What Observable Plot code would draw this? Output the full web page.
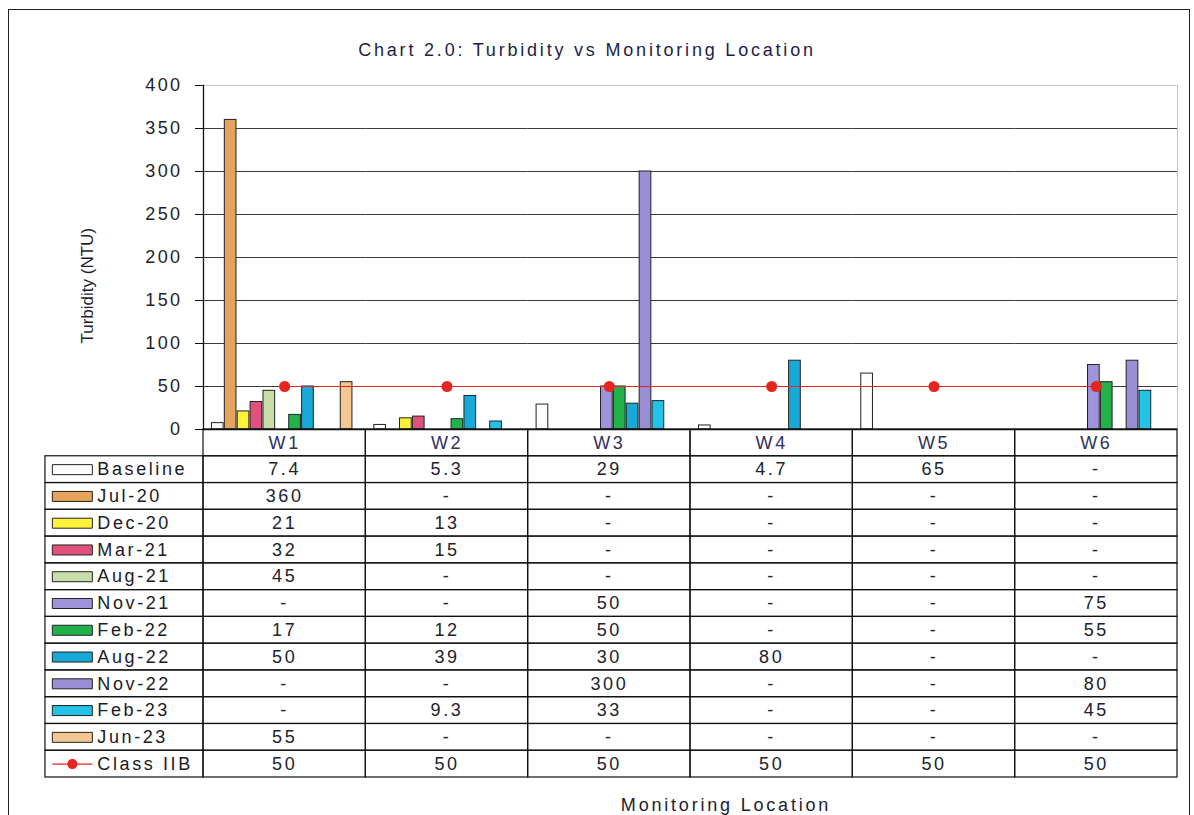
<!DOCTYPE html>
<html><head><meta charset="utf-8">
<script src="https://cdn.jsdelivr.net/npm/d3@7"></script>
<script src="https://cdn.jsdelivr.net/npm/@observablehq/plot@0.6"></script>
<style>
body{margin:0;width:1194px;height:815px;overflow:hidden;background:#fff;font-family:"Liberation Sans",Arial,sans-serif;}
#wrap{position:relative;width:1194px;height:815px;}
#wrap svg{position:absolute;left:0;overflow:visible;background:transparent;}
#frame{position:absolute;left:8px;top:9px;width:1180px;height:840px;border:1.5px solid #222;}
#title{position:absolute;top:40px;left:0;width:1174px;text-align:center;font-size:18px;letter-spacing:2.8px;color:#1e1e48;}
#xtitle{position:absolute;top:795px;left:524px;width:404px;text-align:center;font-size:18px;letter-spacing:2.8px;color:#1e1e30;}
#plotB g[aria-label="y-axis tick label"] text{letter-spacing:2.4px;font-size:18px;}
</style></head>
<body><div id="wrap"><div id="frame"></div><div id="title">Chart 2.0: Turbidity vs Monitoring Location</div><div id="xtitle">Monitoring Location</div></div>
<script>
const locations = ["W1","W2","W3","W4","W5","W6"];
const seriesNames = ["Baseline","Jul-20","Dec-20","Mar-21","Aug-21","Nov-21","Feb-22","Aug-22","Nov-22","Feb-23","Jun-23"];
const seriesColors = ["#ffffff","#e6a35c","#fff23a","#e2507c","#c9dea8","#9f93dc","#21b24c","#19a9d8","#9a8fd6","#22c3e6","#f4c792"];
const baseline = [7.4, 5.3, 29, 4.7, 65, null];
const jul20    = [360, null, null, null, null, null];
const dec20    = [21, 13, null, null, null, null];
const mar21    = [32, 15, null, null, null, null];
const aug21    = [45, null, null, null, null, null];
const nov21    = [null, null, 50, null, null, 75];
const feb22    = [17, 12, 50, null, null, 55];
const aug22    = [50, 39, 30, 80, null, null];
const nov22    = [null, null, 300, null, null, 80];
const feb23    = [null, 9.3, 33, null, null, 45];
const jun23    = [55, null, null, null, null, null];
const classIIB = [50, 50, 50, 50, 50, 50];
const classLabel = "Class IIB";
const yLabel = "Turbidity (NTU)";
const yTicks = [0, 50, 100, 150, 200, 250, 300, 350, 400];

const seriesValues = [baseline, jul20, dec20, mar21, aug21, nov21, feb22, aug22, nov22, feb23, jun23];
const bars = seriesNames.flatMap((s, i) => locations.map((loc, j) => ({series: s, loc, value: seriesValues[i][j]}))).filter(d => d.value != null);
const limit = locations.map((loc, j) => ({loc, value: classIIB[j]}));

const RED = "#e8241e";
const W = 1194, H = 440;
const common = {width: W, height: H, marginTop: 85, marginBottom: 11, marginLeft: 203, marginRight: 17,
  style: {fontFamily: '"Liberation Sans", Arial, sans-serif', background: "transparent", color: "#1e1e2e", fontSize: "17px"}};
const wrap = document.getElementById("wrap");

// bars + gridlines
const plotA = Plot.plot({
  ...common,
  fx: {domain: locations, axis: null, padding: 0, round: false},
  x: {domain: seriesNames, axis: null, paddingInner: 0, paddingOuter: 0.8, align: 0.38, round: false},
  y: {domain: [0, 400], axis: null},
  color: {domain: seriesNames, range: seriesColors},
  marks: [
    Plot.ruleY(yTicks.filter(t => t > 0 && t < 400), {stroke: "#3c3c3c", strokeWidth: 1.2}),
    Plot.barY(bars, {fx: "loc", x: "series", y: "value", fill: "series", stroke: "#222", strokeWidth: 1, insetLeft: 0.6, insetRight: 0.6})
  ]
});
plotA.style.top = "0px";
wrap.appendChild(plotA);

// axes, frame and Class IIB line
const plotB = Plot.plot({
  ...common,
  x: {type: "point", domain: locations, padding: 0.5, axis: null, round: false},
  y: {domain: [0, 400], axis: null},
  marks: [
    Plot.frame({stroke: "#c4c4c4"}),
    Plot.frame({anchor: "left", stroke: "#111", strokeWidth: 1.3}),
    Plot.ruleY([0], {stroke: "#111", strokeWidth: 1.3}),
    Plot.axisY({ticks: yTicks, tickSize: 8, tickPadding: 13, fontSize: 18, label: null, stroke: "#111"}),
    Plot.text([yLabel], {frameAnchor: "left", text: d => d, rotate: -90, dx: -116, dy: 86, fontSize: 17, fill: "#1e1e2e"}),
    Plot.line(limit, {x: "loc", y: "value", stroke: RED, strokeWidth: 1.2}),
    Plot.dot(limit, {x: "loc", y: "value", r: 5.5, fill: RED})
  ]
});
plotB.id = "plotB";
plotB.style.top = "0px";
wrap.appendChild(plotB);

// data table
const rows = ["hdr", ...seriesNames, classLabel];
const cols = ["", ...locations];
const allValues = [...seriesValues, classIIB];
const labelRows = [...seriesNames, classLabel];
const gridCells = rows.flatMap(r => locations.map(c => ({row: r, col: c})));
const valueCells = labelRows.flatMap((r, i) => locations.map((c, j) => ({row: r, col: c, label: allValues[i][j] == null ? "-" : String(allValues[i][j])})));
const colW = (W - 203 - 17) / locations.length;
const rectSymbol = {draw(ctx) { ctx.rect(-20, -5, 40, 10); }};
const lineSymbol = {draw(ctx) { ctx.moveTo(-20, 0); ctx.lineTo(20, 0); }};
const TH = 350;
const plotT = Plot.plot({
  width: W, height: TH, marginTop: 1, marginBottom: 1, marginLeft: 203 - colW, marginRight: 17,
  style: {fontFamily: '"Liberation Sans", Arial, sans-serif', background: "transparent", color: "#1e1e2e", letterSpacing: "2.6px"},
  x: {domain: cols, padding: 0, axis: null, round: false},
  y: {domain: rows, padding: 0, axis: null, round: false},
  color: {domain: seriesNames, range: seriesColors},
  marks: [
    Plot.cell(gridCells, {x: "col", y: "row", fill: "none", stroke: "#111", strokeWidth: 1.2}),
    Plot.cell(labelRows, {x: () => "", y: d => d, fill: "none", stroke: "#111", strokeWidth: 1.2, insetLeft: 4.3}),
    Plot.text(locations, {x: d => d, y: () => "hdr", text: d => d, fontSize: 18, fill: "#30305a"}),
    Plot.text(valueCells, {x: "col", y: "row", text: "label", fontSize: 18, fill: "#22222e"}),
    Plot.text(labelRows, {x: () => "", y: d => d, text: d => d, textAnchor: "start", dx: -25, fontSize: 18, fill: "#1a1a28"}),
    Plot.dot(seriesNames, {x: () => "", y: d => d, symbol: rectSymbol, r: 5, fill: d => d, stroke: "#222", strokeWidth: 1, dx: -50}),
    Plot.dot([classLabel], {x: () => "", y: d => d, symbol: lineSymbol, r: 5, fill: "none", stroke: RED, strokeWidth: 1.2, dx: -50}),
    Plot.dot([classLabel], {x: () => "", y: d => d, r: 5, fill: RED, dx: -50})
  ]
});
plotT.style.top = "428px";
wrap.appendChild(plotT);
</script>
</body></html>
